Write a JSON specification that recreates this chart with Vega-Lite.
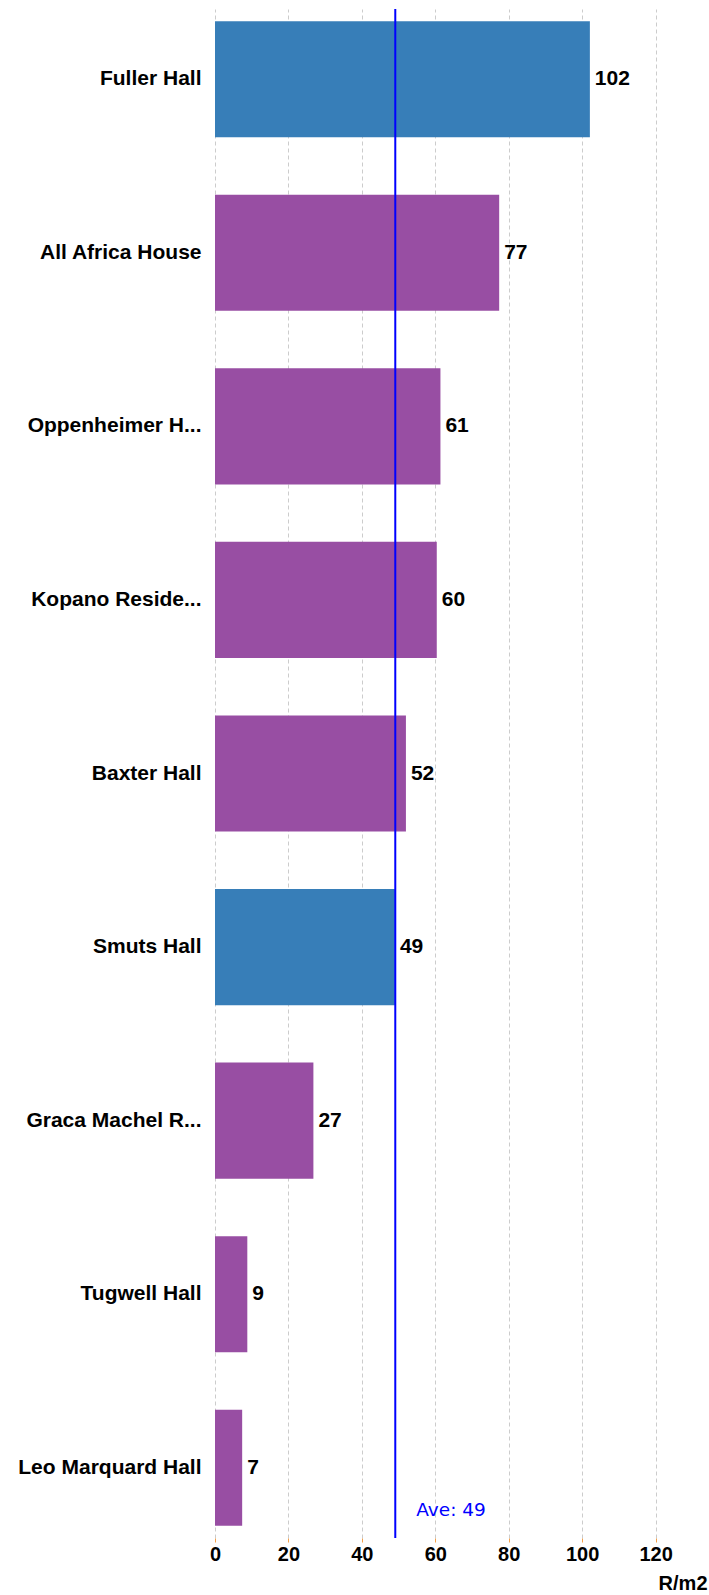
{
  "$schema": "https://vega.github.io/schema/vega-lite/v6.json",
  "autosize": {"type": "none"},
  "padding": {"left": 215, "top": 9, "right": 2, "bottom": 57},
  "width": 492,
  "height": 1529,
  "background": "white",
  "config": {"view": {"stroke": null}, "font": "Liberation Sans"},
  "datasets": {
    "halls": [
      {"hall": "Fuller Hall", "value": 102.1, "group": "highlight"},
      {"hall": "All Africa House", "value": 77.4, "group": "other"},
      {"hall": "Oppenheimer H...", "value": 61.4, "group": "other"},
      {"hall": "Kopano Reside...", "value": 60.4, "group": "other"},
      {"hall": "Baxter Hall", "value": 52.0, "group": "other"},
      {"hall": "Smuts Hall", "value": 49.0, "group": "highlight"},
      {"hall": "Graca Machel R...", "value": 26.8, "group": "other"},
      {"hall": "Tugwell Hall", "value": 8.8, "group": "other"},
      {"hall": "Leo Marquard Hall", "value": 7.4, "group": "other"}
    ],
    "ave": [
      {"label": "Ave: 49", "value": 49.1, "hall": "Leo Marquard Hall"}
    ]
  },
  "layer": [
    {
      "data": {"name": "halls"},
      "mark": {"type": "bar"},
      "encoding": {
        "y": {
          "field": "hall",
          "type": "nominal",
          "sort": null,
          "scale": {"paddingInner": 0.331, "paddingOuter": 0.07},
          "axis": {
            "title": null,
            "ticks": false,
            "domain": false,
            "labelFontSize": 21,
            "labelFontWeight": "bold",
            "labelColor": "black",
            "labelPadding": 14,
            "labelLimit": 220
          }
        },
        "x": {
          "field": "value",
          "type": "quantitative",
          "scale": {"domain": [0, 134], "nice": false},
          "axis": {
            "values": [0, 20, 40, 60, 80, 100, 120],
            "grid": true,
            "gridDash": [4, 3],
            "gridColor": "#cccccc",
            "gridWidth": 1,
            "domain": false,
            "tickColor": "#f5a04a",
            "tickSize": 4,
            "labelFlush": false,
            "labelFontSize": 20,
            "labelFontWeight": "bold",
            "labelColor": "black",
            "labelPadding": 2,
            "title": "R/m2",
            "titleFontSize": 20,
            "titleFontWeight": "bold",
            "titleColor": "black",
            "titleAnchor": "end",
            "titlePadding": 9
          }
        },
        "color": {
          "field": "group",
          "type": "nominal",
          "scale": {"domain": ["highlight", "other"], "range": ["#377eb8", "#984ea3"]},
          "legend": null
        }
      }
    },
    {
      "data": {"name": "halls"},
      "mark": {"type": "text", "align": "left", "baseline": "middle", "dx": 5, "fontSize": 21, "fontWeight": "bold", "color": "black"},
      "encoding": {
        "y": {"field": "hall", "type": "nominal", "sort": null},
        "x": {"field": "value", "type": "quantitative"},
        "text": {"field": "value", "type": "quantitative", "format": ".0f"}
      }
    },
    {
      "data": {"name": "ave"},
      "mark": {"type": "rule", "color": "#0000ff", "strokeWidth": 2},
      "encoding": {
        "x": {"field": "value", "type": "quantitative"}
      }
    },
    {
      "data": {"name": "ave"},
      "mark": {"type": "text", "align": "left", "baseline": "middle", "dx": 21, "dy": -16, "font": "DejaVu Sans", "fontSize": 18.5, "color": "#0000ff"},
      "encoding": {
        "x": {"field": "value", "type": "quantitative"},
        "y": {"field": "hall", "type": "nominal", "sort": null, "bandPosition": 1},
        "text": {"field": "label", "type": "nominal"}
      }
    }
  ]
}
